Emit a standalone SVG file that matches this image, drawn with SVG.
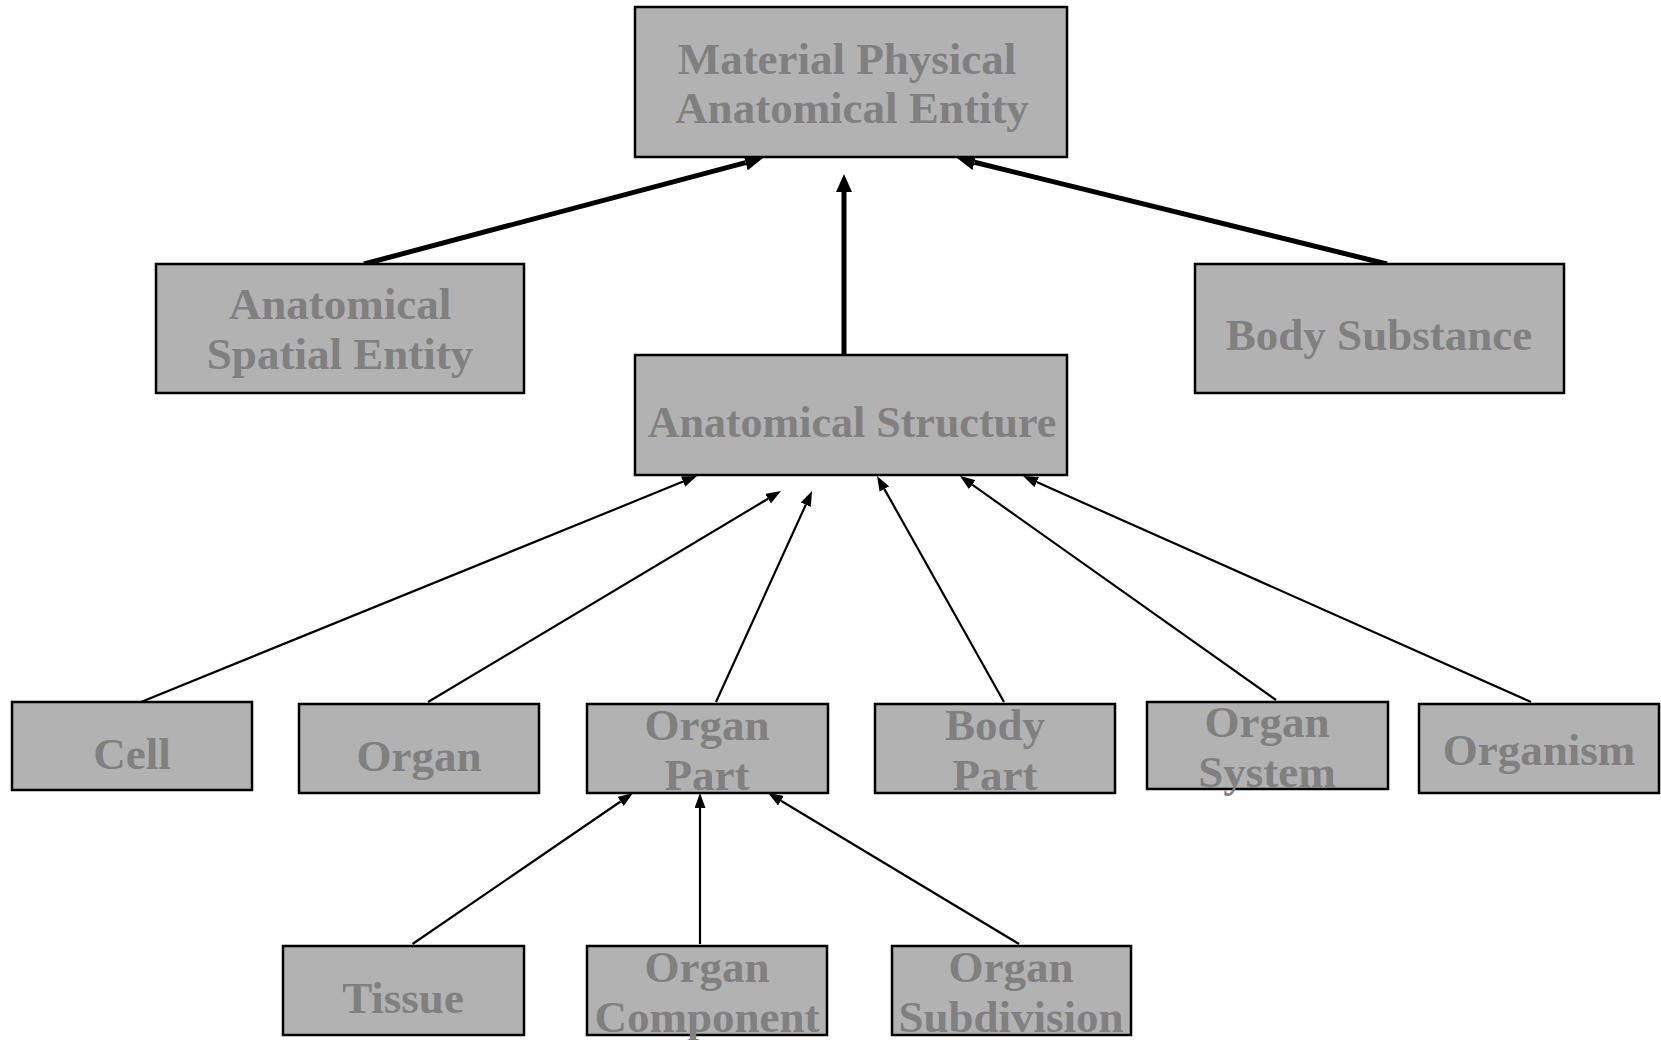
<svg xmlns="http://www.w3.org/2000/svg" width="1661" height="1040" viewBox="0 0 1661 1040">
  <style>
    .box { fill: #b2b2b2; stroke: #000; stroke-width: 2.5; }
    .lbl { font-family: "Liberation Serif", "Times New Roman", serif; font-weight: bold; font-size: 45px; fill: #808080; text-anchor: middle; }
    .thick { stroke: #000; stroke-width: 5; fill: none; marker-end: url(#headBig); }
    .thin { stroke: #000; stroke-width: 2.2; fill: none; marker-end: url(#headSmall); }
  </style>
  <defs>
    <!-- arrowheads: the line ends at the base, the head extends to the tip -->
    <marker id="headBig" markerUnits="userSpaceOnUse" markerWidth="18" markerHeight="16" viewBox="0 0 18 16" refX="0" refY="8" orient="auto">
      <path d="M0,0 L18,8 L0,16 z" fill="#000"/>
    </marker>
    <marker id="headSmall" markerUnits="userSpaceOnUse" markerWidth="15" markerHeight="11" viewBox="0 0 15 11" refX="0" refY="5.5" orient="auto">
      <path d="M0,0 L15,5.5 L0,11 z" fill="#000"/>
    </marker>
  </defs>
  <rect width="1661" height="1040" fill="#fff"/>

  <g id="connectors">
    <line class="thick" x1="364" y1="264" x2="745.6" y2="162.6"/>
    <line class="thick" x1="844" y1="355" x2="844" y2="192"/>
    <line class="thick" x1="1387" y1="264" x2="974.5" y2="162.3"/>
    <line class="thin" x1="141" y1="702" x2="683.1" y2="481.6"/>
    <line class="thin" x1="428" y1="702" x2="768.1" y2="498.7"/>
    <line class="thin" x1="716" y1="702" x2="805.8" y2="504.7"/>
    <line class="thin" x1="1004" y1="702" x2="884.4" y2="489.1"/>
    <line class="thin" x1="1276" y1="700" x2="972.2" y2="484.7"/>
    <line class="thin" x1="1531" y1="702" x2="1036.7" y2="482.1"/>
    <line class="thin" x1="412.5" y1="944" x2="620.6" y2="801.5"/>
    <line class="thin" x1="700" y1="944" x2="700" y2="808"/>
    <line class="thin" x1="1019" y1="944" x2="780.9" y2="800.7"/>
  </g>

  <g id="material-physical-anatomical-entity">
    <rect class="box" x="635" y="7" width="432" height="150"/>
    <text class="lbl" x="847" y="74">Material Physical</text>
    <text class="lbl" x="852" y="123">Anatomical Entity</text>
  </g>
  <g id="anatomical-spatial-entity">
    <rect class="box" x="156" y="264" width="368" height="129"/>
    <text class="lbl" x="340" y="319">Anatomical</text>
    <text class="lbl" x="340" y="369">Spatial Entity</text>
  </g>
  <g id="body-substance">
    <rect class="box" x="1195" y="264" width="369" height="129"/>
    <text class="lbl" x="1379" y="350">Body Substance</text>
  </g>
  <g id="anatomical-structure">
    <rect class="box" x="635" y="355" width="432" height="120"/>
    <text class="lbl" x="852" y="437" style="font-size:44px">Anatomical Structure</text>
  </g>

  <g id="cell">
    <rect class="box" x="12" y="702" width="240" height="88"/>
    <text class="lbl" x="132" y="769">Cell</text>
  </g>
  <g id="organ">
    <rect class="box" x="299" y="704" width="240" height="89"/>
    <text class="lbl" x="419" y="771">Organ</text>
  </g>
  <g id="organ-part">
    <rect class="box" x="587" y="704" width="241" height="89"/>
    <text class="lbl" x="707" y="740">Organ</text>
    <text class="lbl" x="707" y="790">Part</text>
  </g>
  <g id="body-part">
    <rect class="box" x="875" y="704" width="240" height="89"/>
    <text class="lbl" x="995" y="740">Body</text>
    <text class="lbl" x="995" y="790">Part</text>
  </g>
  <g id="organ-system">
    <rect class="box" x="1147" y="702" width="241" height="87"/>
    <text class="lbl" x="1267" y="737">Organ</text>
    <text class="lbl" x="1267" y="787">System</text>
  </g>
  <g id="organism">
    <rect class="box" x="1419" y="704" width="240" height="89"/>
    <text class="lbl" x="1539" y="765">Organism</text>
  </g>

  <g id="tissue">
    <rect class="box" x="283" y="946" width="241" height="89"/>
    <text class="lbl" x="403" y="1013">Tissue</text>
  </g>
  <g id="organ-component">
    <rect class="box" x="587" y="946" width="240" height="89"/>
    <text class="lbl" x="707" y="982">Organ</text>
    <text class="lbl" x="707" y="1032">Component</text>
  </g>
  <g id="organ-subdivision">
    <rect class="box" x="892" y="946" width="239" height="89"/>
    <text class="lbl" x="1011" y="982">Organ</text>
    <text class="lbl" x="1011" y="1032">Subdivision</text>
  </g>
</svg>
